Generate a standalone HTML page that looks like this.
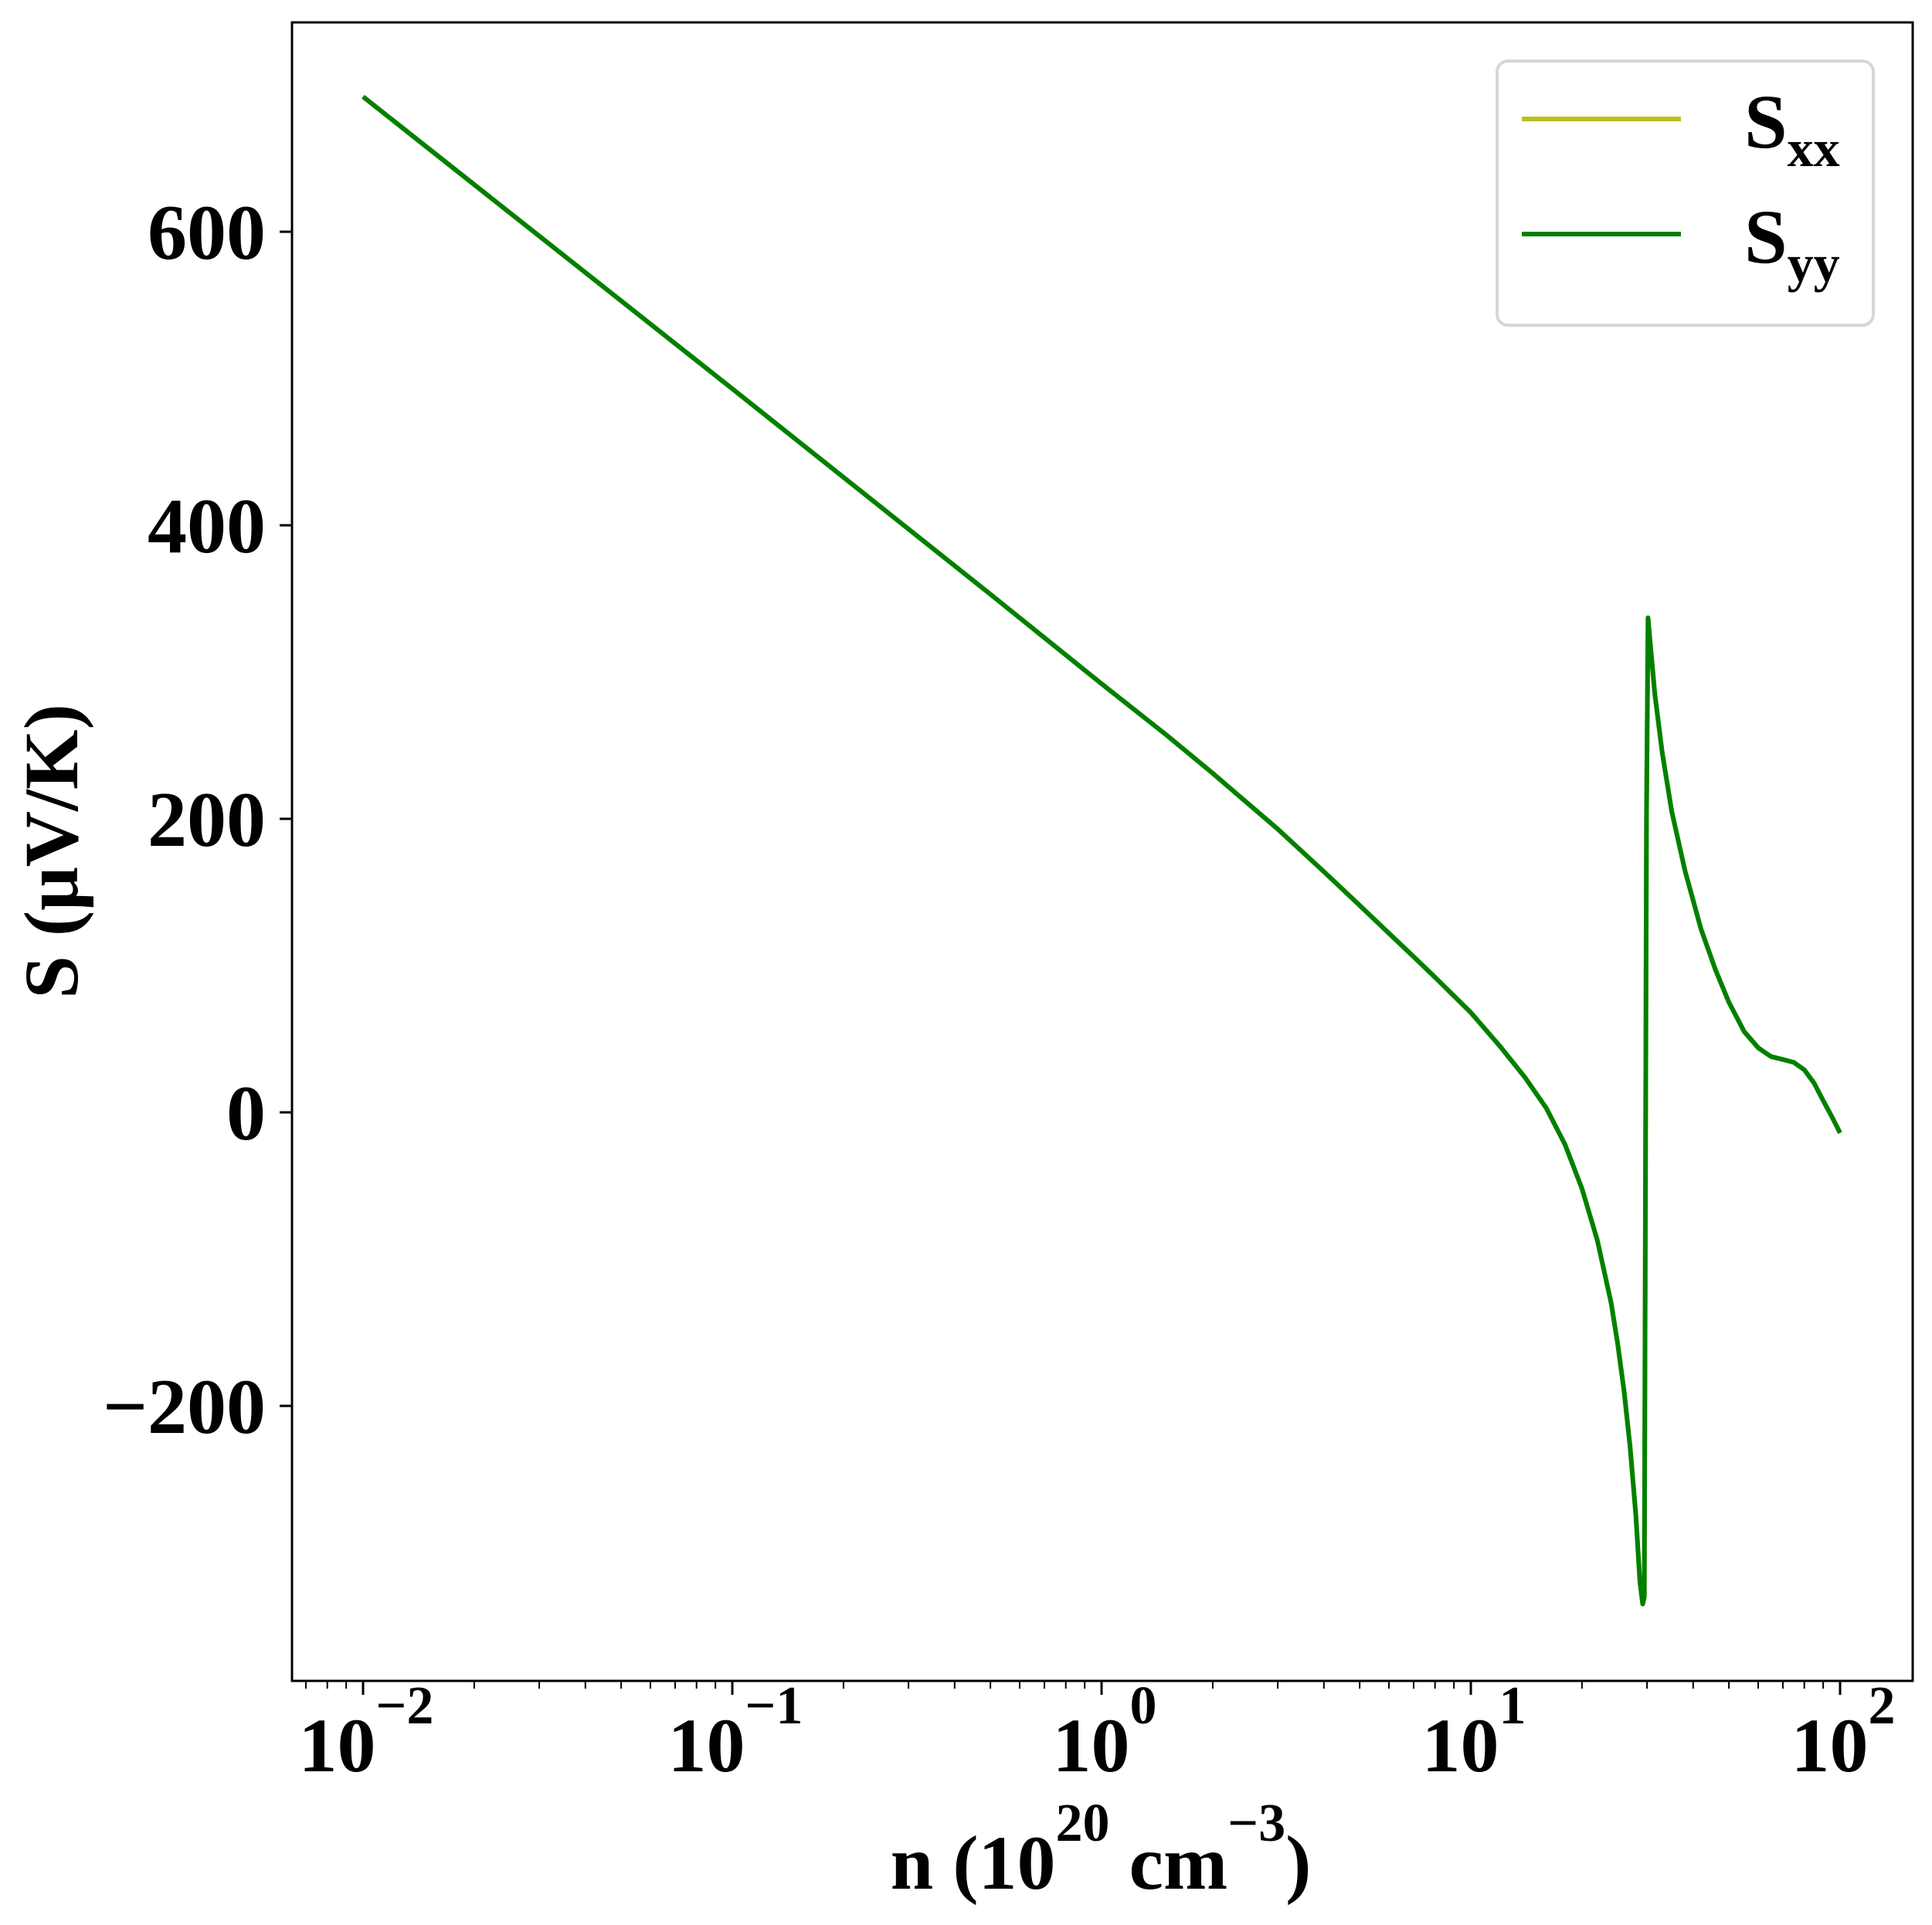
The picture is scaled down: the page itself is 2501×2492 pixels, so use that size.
<!DOCTYPE html>
<html><head><meta charset="utf-8"><style>
html,body{margin:0;padding:0;background:#fff;}
svg{display:block;font-family:"Liberation Serif",serif;font-weight:bold;}
</style></head><body>
<svg id="chart" width="2501" height="2492" viewBox="0 0 2501 2492" xmlns="http://www.w3.org/2000/svg">
<rect x="378" y="29" width="2098" height="2147" fill="#fff"/>
<g id="ticks"></g>
<g id="series"></g>
<rect x="378" y="29" width="2098" height="2147" fill="none" stroke="#000" stroke-width="3"/>
<text transform="translate(100,1102) rotate(-90)" text-anchor="middle" font-size="100">S (μV/K)</text>
<text x="1425" y="2445" text-anchor="middle" font-size="100">n (10<tspan dy="-62" font-size="70">20</tspan><tspan dy="62"> cm</tspan><tspan dy="-62" font-size="70">−3</tspan><tspan dy="62">)</tspan></text>
<g>
<rect x="1938" y="79" width="487" height="342" rx="14" fill="#fff" fill-opacity="0.8" stroke="#d6d6d6" stroke-width="4"/>
<line x1="1970" y1="154" x2="2176" y2="154" stroke="#bcbd22" stroke-width="6"/>
<text x="2258" y="191" font-size="100">S<tspan dy="24" font-size="68">xx</tspan></text>
<line x1="1970" y1="303" x2="2176" y2="303" stroke="#008000" stroke-width="6"/>
<text x="2258" y="340" font-size="100">S<tspan dy="24" font-size="68">yy</tspan></text>
</g>
</svg>
<script>
const nValues = [0.01,0.1,0.5,1,1.5,2,3,4,5,6,7,8,10,12,14,16,18,20,22,24,25,26,27,28,28.7,29.2,29.5,29.9,30.2,30.6,31.5,33,35,38,42,46,50,55,60,65,70,75,80,85,90,95,100];
const sxxValues = [692,493,353,292,257,231,193,164,141,122,106,92,68,45,24,3,-22,-52,-87,-130,-158,-190,-228,-275,-320,-335,-330,200,337,320,285,245,205,165,125,97,75,55,44,38,36,34,29,20,8,-3,-14];
const syyValues = [692,493,353,292,257,231,193,164,141,122,106,92,68,45,24,3,-22,-52,-87,-130,-158,-190,-228,-275,-320,-335,-330,200,337,320,285,245,205,165,125,97,75,55,44,38,36,34,29,20,8,-3,-14];
const yTicks = [-200,0,200,400,600];
const yTickLabels = ["−200","0","200","400","600"];
const xDecades = [-2,-1,0,1,2];
const xTickLabels = ["−2","−1","0","1","2"];

const NS='http://www.w3.org/2000/svg';
function xs(n){return 470+(Math.log10(n)+2)*478;}
function ys(s){return 1440-s*1.9;}
function mk(tag,attrs,parent){const e=document.createElementNS(NS,tag);for(const k in attrs)e.setAttribute(k,attrs[k]);parent.appendChild(e);return e;}
const tg=document.getElementById('ticks');
yTicks.forEach((v,i)=>{
  const y=ys(v);
  const l=mk('line',{x1:362,x2:378,y1:y,y2:y,stroke:'#000','stroke-width':3},tg);
  
  
  const t=mk('text',{x:344,y:y+35,'text-anchor':'end','font-size':102},tg);
  
  
  t.textContent=yTickLabels[i];
});
xDecades.forEach((d,i)=>{
  const x=xs(Math.pow(10,d));
  const l=mk('line',{x1:x,x2:x,y1:2176,y2:2194,stroke:'#000','stroke-width':3},tg);
  
  
  const t=mk('text',{x:x+4,y:2293,'text-anchor':'middle','font-size':100},tg);
  
  
  t.textContent='10';
  const sp=mk('tspan',{dy:-62,'font-size':70},t);
  sp.textContent=xTickLabels[i];
});
for(let d=-3;d<=2;d++){
  for(let m=2;m<=9;m++){
    const x=xs(m*Math.pow(10,d));
    if(x<378||x>2476)continue;
    const l=mk('line',{x1:x,x2:x,y1:2176,y2:2186,stroke:'#000','stroke-width':2},tg);
    
    
  }
}
const sg=document.getElementById('series');
function pts(vals){return nValues.map((n,i)=>xs(n).toFixed(1)+','+ys(vals[i]).toFixed(1)).join(' ');}
const p1=mk('polyline',{points:pts(sxxValues),fill:'none',stroke:'#bcbd22','stroke-width':6,'stroke-linejoin':'round'},sg);


const p2=mk('polyline',{points:pts(syyValues),fill:'none',stroke:'#008000','stroke-width':6,'stroke-linejoin':'round'},sg);


</script>
</body></html>
